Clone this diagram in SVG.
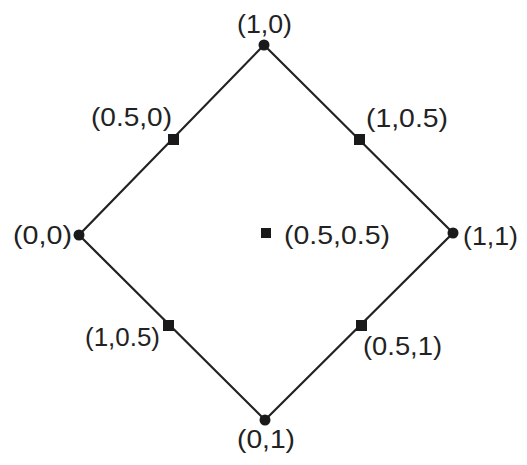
<svg xmlns="http://www.w3.org/2000/svg" width="527" height="465" viewBox="0 0 527 465">
<style>
text{font-family:"Liberation Sans",Arial,sans-serif;font-size:26px;fill:#222}
.v{fill:#1a1a1a}
.m{fill:#1a1a1a}
.e{stroke:#222;stroke-width:2.2;fill:none}
</style>
<rect width="527" height="465" fill="#fff"/>
<g id="connectors">
<path class="e" d="M264,45 L79,235 L265,420 L453,233 Z"/>
</g>
<g id="n10"><circle class="v" cx="264" cy="45" r="5.5"/><text x="237" y="33" textLength="55" lengthAdjust="spacingAndGlyphs">(1,0)</text></g>
<g id="n00"><circle class="v" cx="79" cy="235" r="5.5"/><text x="13" y="244" textLength="59" lengthAdjust="spacingAndGlyphs">(0,0)</text></g>
<g id="n11"><circle class="v" cx="453" cy="233" r="5.5"/><text x="463" y="245" textLength="55" lengthAdjust="spacingAndGlyphs">(1,1)</text></g>
<g id="n01"><circle class="v" cx="265" cy="420" r="5.5"/><text x="237" y="448" textLength="58" lengthAdjust="spacingAndGlyphs">(0,1)</text></g>
<g id="n050"><rect class="m" x="168" y="134" width="11" height="11"/><text x="91" y="126" textLength="81" lengthAdjust="spacingAndGlyphs">(0.5,0)</text></g>
<g id="n105a"><rect class="m" x="354" y="134" width="11" height="11"/><text x="366" y="127" textLength="82" lengthAdjust="spacingAndGlyphs">(1,0.5)</text></g>
<g id="n105b"><rect class="m" x="163" y="320" width="11" height="11"/><text x="85" y="346" textLength="75" lengthAdjust="spacingAndGlyphs">(1,0.5)</text></g>
<g id="n051"><rect class="m" x="356" y="320" width="11" height="11"/><text x="363" y="355" textLength="79" lengthAdjust="spacingAndGlyphs">(0.5,1)</text></g>
<g id="n0505"><rect class="m" x="261" y="228" width="10" height="10"/><text x="284" y="244" textLength="106" lengthAdjust="spacingAndGlyphs">(0.5,0.5)</text></g>
</svg>
